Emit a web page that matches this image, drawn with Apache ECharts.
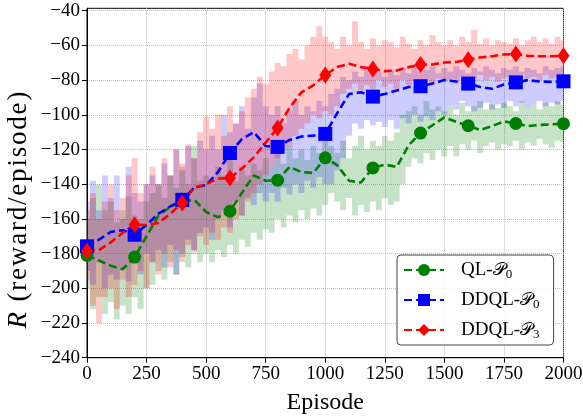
<!DOCTYPE html>
<html><head><meta charset="utf-8">
<script src="https://cdn.jsdelivr.net/npm/echarts@6/dist/echarts.min.js"></script>
<style>html,body{margin:0;padding:0;background:#fff;}#c{width:583px;height:418px;}</style>
</head><body><div id="c"></div>
<script>
// Moving-average curves, sampled every 50 episodes
const meanEpisodes = [0,50,100,150,200,250,300,350,400,450,500,550,600,650,700,750,800,850,900,950,1000,1050,1100,1150,1200,1250,1300,1350,1400,1450,1500,1550,1600,1650,1700,1750,1800,1850,1900,1950,2000];
const qlMean   = [-181,-184,-187,-189,-182,-170,-158,-153,-150,-149,-156,-159,-155.6,-145,-135,-138,-137.7,-130,-133,-133.5,-124.8,-129,-138,-139,-130.6,-128.7,-130,-117.5,-110.5,-106,-101.5,-104,-106.3,-108.7,-106.5,-103.8,-105,-106.5,-105.8,-105.5,-105.1];
const ddqlMean = [-175.8,-172,-167.5,-166.5,-169.1,-163.5,-157,-152.8,-149,-142,-140.5,-133,-122,-114,-110,-118,-118.5,-114.5,-112.5,-112,-111,-99,-88,-87,-89.5,-88,-86,-84,-83.5,-82,-80,-80.8,-82,-84,-85,-82.5,-81.3,-80,-80.8,-81,-80.7];
const ddql3Mean= [-178.5,-178,-173.5,-168,-163.3,-163.5,-162.3,-157,-150.8,-142,-140,-136.8,-136.4,-131,-124.5,-116,-107.6,-96,-87,-83,-77,-72.5,-70.5,-72.5,-73.6,-74.8,-74.5,-72.5,-71,-71,-69.8,-69.5,-68.2,-67,-66.2,-65.2,-65,-66,-66.2,-66.2,-66];
const markerEvery = 200;

// Shaded bands (per-episode spread), sampled every 25 episodes
const bandEpisodes = [0,25,50,75,100,125,150,175,200,225,250,275,300,325,350,375,400,425,450,475,500,525,550,575,600,625,650,675,700,725,750,775,800,825,850,875,900,925,950,975,1000,1025,1050,1075,1100,1125,1150,1175,1200,1225,1250,1275,1300,1325,1350,1375,1400,1425,1450,1475,1500,1525,1550,1575,1600,1625,1650,1675,1700,1725,1750,1775,1800,1825,1850,1875,1900,1925,1950,1975,2000];
const qlUpper = [-160,-148,-140,-155,-150,-162,-155,-147,-158,-160,-150,
  -145,-140,-148,-135,-142,-130,-140,-118,-138,-135,
  -140,-130,-135,-125,-138,-130,-135,-128,-132,-125,
  -130,-122,-128,-118,-125,-120,-126,-118,-122,-115,
  -118,-122,-115,-125,-118,-112,-120,-115,-118,-112,
  -115,-110,-100,-98,-95,-100,-92,-97,-95,-98,
  -95,-100,-93,-98,-95,-92,-97,-94,-96,-93,
  -95,-98,-92,-96,-94,-97,-93,-95,-92,-94];
const qlLower = [-200,-212,-205,-215,-208,-218,-210,-215,-205,-212,-200,
  -198,-190,-195,-185,-192,-182,-188,-178,-185,-180,
  -185,-178,-182,-175,-180,-172,-176,-168,-172,-166,
  -168,-160,-165,-158,-162,-155,-160,-154,-158,-152,
  -145,-150,-155,-148,-158,-152,-156,-150,-155,-148,
  -152,-150,-140,-130,-125,-128,-122,-126,-120,-124,
  -118,-124,-117,-120,-115,-122,-118,-116,-120,-117,
  -118,-115,-120,-116,-118,-114,-117,-119,-115,-116];
const ddqlUpper = [-150,-138,-155,-135,-148,-135,-160,-130,-145,-150,-140,
  -135,-140,-128,-135,-120,-132,-118,-125,-115,-120,
  -112,-120,-100,-110,-105,-95,-108,-90,-82,-95,
  -100,-95,-105,-98,-92,-100,-95,-98,-92,-95,
  -88,-85,-78,-80,-75,-78,-72,-76,-75,-78,
  -74,-77,-73,-76,-72,-75,-74,-72,-76,-73,
  -75,-72,-74,-76,-73,-75,-72,-74,-76,-73,
  -74,-72,-75,-73,-74,-76,-72,-74,-73,-72];
const ddqlLower = [-190,-198,-185,-200,-192,-195,-188,-196,-185,-192,-180,
  -185,-178,-188,-175,-192,-180,-172,-178,-168,-165,
  -172,-160,-155,-165,-150,-158,-148,-152,-145,-150,
  -145,-150,-142,-146,-140,-145,-138,-142,-136,-140,
  -140,-132,-125,-112,-105,-108,-103,-106,-104,-107,
  -103,-108,-102,-105,-100,-104,-101,-103,-98,-100,
  -95,-97,-92,-95,-98,-96,-93,-97,-94,-96,
  -92,-95,-93,-96,-94,-92,-95,-93,-94,-92];
const ddql3Upper = [-155,-145,-160,-150,-140,-155,-148,-135,-125,-145,-140,
  -130,-140,-125,-135,-120,-128,-117,-125,-110,-101,
  -108,-100,-112,-95,-105,-98,-90,-85,-78,-82,
  -75,-70,-72,-65,-62,-68,-60,-55,-49,-55,
  -58,-62,-55,-60,-46,-58,-62,-56,-60,-57,
  -58,-61,-55,-59,-62,-57,-60,-54,-58,-60,
  -57,-60,-55,-58,-51,-59,-56,-60,-57,-58,
  -59,-56,-60,-57,-55,-58,-56,-59,-55,-57];
const ddql3Lower = [-195,-210,-220,-205,-200,-212,-195,-205,-198,-190,-200,
  -185,-192,-180,-188,-178,-185,-175,-180,-170,-175,
  -168,-172,-165,-168,-160,-158,-150,-145,-140,-135,
  -130,-125,-120,-118,-112,-108,-105,-100,-102,-98,
  -100,-95,-88,-85,-82,-86,-83,-85,-80,-84,
  -82,-85,-80,-83,-81,-84,-80,-82,-79,-81,
  -80,-82,-78,-81,-79,-77,-80,-78,-81,-79,
  -78,-80,-77,-79,-78,-80,-77,-79,-78,-77];

const xTicks = [0,250,500,750,1000,1250,1500,1750,2000];
const yTicks = [-240,-220,-200,-180,-160,-140,-120,-100,-80,-60,-40];
const yTitle = 'R (reward/episode)';

const FONT = 'Liberation Serif';
const chart = echarts.init(document.getElementById('c'), null, {renderer:'canvas'});

function bandSeries(key, upper, lower, color) {
  return {name: key+'_band', type:'custom', silent:true, clip:true, z:1,
    data: [[bandEpisodes[0], upper[0]]], encode:{x:0, y:1},
    renderItem: function (params, api) {
      const n = bandEpisodes.length, top = [], bot = [];
      for (let i = 0; i < n; i++) {
        const l = i === 0 ? bandEpisodes[0] : (bandEpisodes[i-1] + bandEpisodes[i]) / 2;
        const r = i === n-1 ? bandEpisodes[n-1] : (bandEpisodes[i] + bandEpisodes[i+1]) / 2;
        top.push(api.coord([l, upper[i]]), api.coord([r, upper[i]]));
        bot.push(api.coord([l, lower[i]]), api.coord([r, lower[i]]));
      }
      const pts = top.concat(bot.reverse());
      return {type:'polygon', shape:{points: pts}, style:{fill: color, stroke:'none'}};
    }};
}
function meanSeries(name, vals, color, symbol, size) {
  return {name: name, type:'line', symbol: symbol, symbolSize: size, showAllSymbol:true,
    itemStyle:{color: color, opacity:1}, lineStyle:{color: color, width:2.6, type:[8,4]},
    data: meanEpisodes.map((e,i)=> e % markerEvery === 0 ? [e, vals[i]] : {value:[e, vals[i]], symbol:'none'}),
    z:5};
}
const fmtMinus = v => String(v).replace('-', '\u2212');
// lightly letter-spaced y title: first char italic
const yTitleRich = yTitle.split('').map((c, i) => '{' + (i === 0 ? 'i' : 'c') + '|' + c + '}').join('');

const option = {
  animation:false,
  backgroundColor:'#fff',
  grid:{left:87, right:19.5, top:8.3, bottom:60.3, show:true, borderColor:'#000', borderWidth:1, containLabel:false, outerBoundsMode:'none'},
  xAxis:{type:'value', min:0, max:2000, interval:250,
    axisLine:{show:true, lineStyle:{color:'#000', width:1}},
    axisTick:{show:true, length:5, inside:false, lineStyle:{color:'#000'}},
    axisLabel:{fontFamily:FONT, fontSize:19, color:'#000', margin:7, customValues: xTicks, formatter: v => String(v)},
    splitLine:{show:true, lineStyle:{color:'#bdbdbd', type:'dotted', width:1}},
    name:'Episode', nameLocation:'middle', nameGap:33, nameTextStyle:{fontFamily:FONT, fontSize:24, color:'#000'}},
  yAxis:{type:'value', min:-240, max:-38.6, interval:20,
    axisLine:{show:true, lineStyle:{color:'#000', width:1}},
    axisTick:{show:true, length:5, inside:false, lineStyle:{color:'#000'}, customValues: yTicks},
    axisLabel:{fontFamily:FONT, fontSize:19, color:'#000', margin:7, customValues: yTicks, formatter: fmtMinus},
    splitLine:{show:true, lineStyle:{color:'#bdbdbd', type:'dotted', width:1}}},
  legend:{data:['QL','DDQL0','DDQL3'], orient:'vertical', left:397, top:255,
    padding:[4,14,4,6], itemGap:8, itemWidth:40, itemHeight:15,
    backgroundColor:'rgba(255,255,255,0.85)', borderColor:'#444', borderWidth:1, borderRadius:4,
    formatter: n => ({QL:'QL-{p|\uD835\uDCAB}{s|0}', DDQL0:'DDQL-{p|\uD835\uDCAB}{s|0}', DDQL3:'DDQL-{p|\uD835\uDCAB}{s|3}'})[n],
    textStyle:{fontFamily:FONT, fontSize:19, color:'#000', lineHeight:22, padding:[0,0,0,12],
      rich:{p:{fontFamily:'DejaVu Serif, '+FONT, fontSize:18, lineHeight:22, verticalAlign:'middle'},
            s:{fontFamily:FONT, fontSize:13, lineHeight:10, verticalAlign:'bottom'}}}},
  graphic:[{type:'text', x:19, y:210, rotation:Math.PI/2,
    style:{text: yTitleRich, fontFamily:FONT, fontSize:27, fill:'#000', align:'center', verticalAlign:'middle',
      rich:{i:{fontFamily:FONT, fontStyle:'italic', fontSize:27, padding:[0,0.9,0,0.9]},
            c:{fontFamily:FONT, fontSize:27, padding:[0,0.9,0,0.9]}}}}],
  series:[
    bandSeries('g', qlUpper, qlLower, 'rgba(0,128,0,0.22)'),
    bandSeries('b', ddqlUpper, ddqlLower, 'rgba(0,0,255,0.2)'),
    bandSeries('r', ddql3Upper, ddql3Lower, 'rgba(255,0,0,0.22)'),
    meanSeries('QL', qlMean, '#008000', 'circle', 13),
    meanSeries('DDQL0', ddqlMean, '#0000ff', 'rect', 14),
    meanSeries('DDQL3', ddql3Mean, '#ff0000', 'diamond', [12,17])]
};
chart.setOption(option);
</script></body></html>
